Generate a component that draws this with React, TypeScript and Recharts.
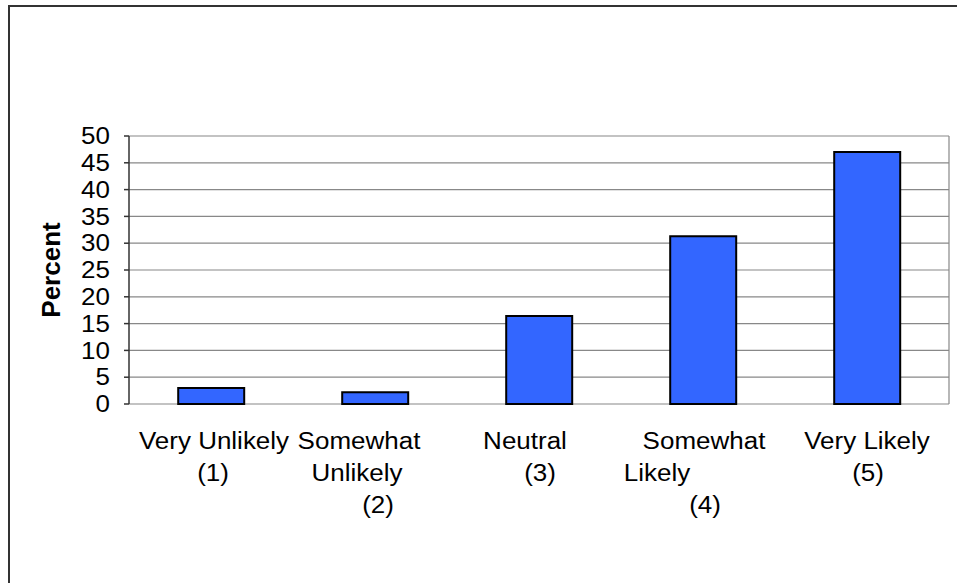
import React from "react";
import {
  BarChart,
  Bar,
  XAxis,
  YAxis,
  CartesianGrid,
  Label,
} from "recharts";

// values
const categories = [
  "Very Unlikely (1)",
  "Somewhat Unlikely (2)",
  "Neutral (3)",
  "Somewhat Likely (4)",
  "Very Likely (5)",
];
const labelLines = [
  ["Very Unlikely", "(1)"],
  ["Somewhat", "Unlikely", "(2)"],
  ["Neutral", "(3)"],
  ["Somewhat", "Likely", "(4)"],
  ["Very Likely", "(5)"],
];
const percent = [3.0, 2.2, 16.4, 31.3, 47.0];
const yTicks = [0, 5, 10, 15, 20, 25, 30, 35, 40, 45, 50];
const boundaryTicks = [0, 1, 2, 3, 4, 5];

const data = categories.map((name, i) => ({
  name,
  idx: i,
  value: percent[i],
}));

// little horizontal nudges so the wrapped lines sit like the original
const lineShift = [
  [3, 2],
  [-16, -18, 3],
  [-14, 1],
  [1, -46, 2],
  [0, 1],
];
const lineDy = [45, 77, 109];

const FONT = "'Liberation Sans', Arial, sans-serif";
const STRETCH = 1.13;

const YTick = (props: any) => {
  const { x, y, payload } = props;
  return (
    <g transform={`translate(${x},${y}) scale(${STRETCH},1)`}>
      <text
        x={0}
        y={0}
        dy="0.36em"
        textAnchor="end"
        fontSize={23}
        fontFamily={FONT}
        fill="#000"
      >
        {payload.value}
      </text>
    </g>
  );
};

const XTick = (props: any) => {
  const { x, y, index } = props;
  const lines = labelLines[index] || [];
  return (
    <g>
      {lines.map((ln, j) => (
        <g
          key={j}
          transform={`translate(${x + lineShift[index][j]},${y + lineDy[j]}) scale(${STRETCH},1)`}
        >
          <text
            x={0}
            y={0}
            textAnchor="middle"
            fontSize={23}
            fontFamily={FONT}
            fill="#000"
          >
            {ln}
          </text>
        </g>
      ))}
    </g>
  );
};

const EmptyTick = () => <g />;

export default function App() {
  return (
    <div
      style={{
        position: "absolute",
        left: 0,
        top: 0,
        width: 957,
        height: 583,
        background: "#fff",
        overflow: "hidden",
      }}
    >
      <div
        style={{
          position: "absolute",
          left: 8,
          top: 5,
          width: 1000,
          height: 700,
          borderLeft: "2px solid #333",
          borderTop: "2px solid #333",
        }}
      />
      <div style={{ position: "absolute", left: 0, top: 0 }}>
        <BarChart
          width={957}
          height={583}
          data={data}
          margin={{ top: 136, right: 8, left: 0, bottom: 79 }}
          barCategoryGap="30%"
        >
          <CartesianGrid
            xAxisId="cat"
            stroke="#888"
            strokeWidth={1.2}
            fill="none"
            verticalCoordinatesGenerator={({ offset }: any) => [
              offset.left + offset.width,
            ]}
          />
          <XAxis
            xAxisId="bnd"
            type="number"
            dataKey="idx"
            domain={[0, 5]}
            ticks={boundaryTicks}
            height={0}
            axisLine={{ stroke: "#333", strokeWidth: 1.5 }}
            tickLine={{ stroke: "#333", strokeWidth: 1.5 }}
            tickSize={8}
            tick={EmptyTick}
          />
          <XAxis
            xAxisId="cat"
            dataKey="name"
            height={100}
            axisLine={false}
            tickLine={false}
            tickSize={0}
            tickMargin={0}
            interval={0}
            tick={XTick}
          />
          <YAxis
            width={129}
            domain={[0, 50]}
            ticks={yTicks}
            interval={0}
            axisLine={{ stroke: "#333", strokeWidth: 1.5 }}
            tickLine={{ stroke: "#333", strokeWidth: 1.5 }}
            tickSize={5}
            tickMargin={14}
            tick={YTick}
          >
            <Label
              content={({ viewBox }: any) => (
                <text
                  x={51}
                  y={viewBox.y + viewBox.height / 2}
                  transform={`rotate(-90, 51, ${viewBox.y + viewBox.height / 2})`}
                  textAnchor="middle"
                  dominantBaseline="central"
                  fontSize={26}
                  fontWeight="bold"
                  fontFamily={FONT}
                  fill="#000"
                >
                  Percent
                </text>
              )}
            />
          </YAxis>
          <Bar
            xAxisId="cat"
            dataKey="value"
            fill="#3366FF"
            stroke="#000"
            strokeWidth={2}
            isAnimationActive={false}
          />
        </BarChart>
      </div>
    </div>
  );
}
